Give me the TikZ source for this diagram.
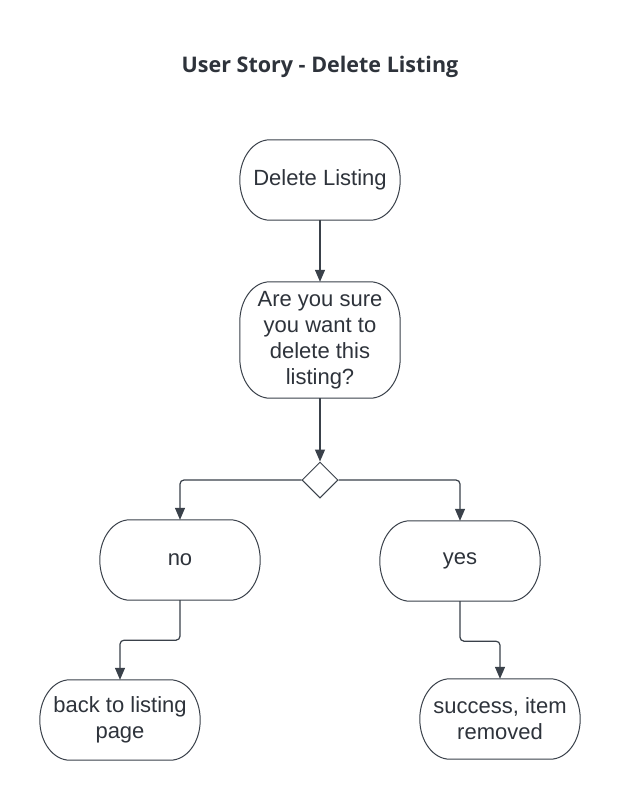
\documentclass[tikz,border=0pt]{standalone}
\usepackage{fontspec}
\setmainfont{Liberation Sans}
\newfontfamily\titlefont{Open Sans}
\usetikzlibrary{arrows.meta, shapes.geometric}
\definecolor{ink}{HTML}{3A414A}
\definecolor{txt}{HTML}{2E333B}
\tikzset{
  story/.style={minimum width=160pt, minimum height=80pt, inner sep=0pt, align=center,
    text=txt, font=\fontsize{22}{26}\selectfont},
  outline/.style={draw=ink, line width=1pt},
  gate/.style={diamond, outline, inner sep=0pt, minimum width=36pt, minimum height=36pt},
  flow/.style={draw=ink, line width=1.2pt, rounded corners=4pt, -{Triangle[length=12pt,width=10pt]}}
}
\begin{document}
\begin{tikzpicture}[x=1pt, y=-1pt]
	\useasboundingbox[fill=white] (0,0) rectangle (620,800);
	\node (title) at (320,67) [text=txt, font=\titlefont\bfseries\fontsize{21.5}{24}\selectfont] {User Story - Delete Listing};
	\node (delete) at (320,180) [story] {Delete Listing};
	\node (ask) at (320,340) [story, minimum height=116pt] {Are you sure\\you want to\\delete this\\listing?};
	\node (choice) at (320,480) [gate] {};
	\node (no) at (180,560) [story] {no};
	\node (yes) at (460,561) [story] {yes};
	\node (back) at (120,720) [story] {back to listing\\page};
	\node (done) at (500,719) [story] {success, item\\removed};
	% box outlines
	\foreach \n in {delete, ask, no, yes, back, done}
		\draw[outline] ([xshift=30pt]\n.north west) -- ([xshift=-30pt]\n.north east)
			arc[start angle=90, end angle=0, x radius=30pt, y radius=40pt]
			-- ([yshift=40pt]\n.south east)
			arc[start angle=0, end angle=-90, x radius=30pt, y radius=40pt]
			-- ([xshift=30pt]\n.south west)
			arc[start angle=270, end angle=180, x radius=30pt, y radius=40pt]
			-- ([yshift=-40pt]\n.north west)
			arc[start angle=180, end angle=90, x radius=30pt, y radius=40pt] -- cycle;
	% connectors
	\draw[flow] (delete.south) -- (ask.north);
	\draw[flow] (ask.south) -- (choice.north);
	\draw[flow] (choice.west) -| (no.north);
	\draw[flow] (choice.east) -| (yes.north);
	\draw[flow] (no.south) -- ++(0,40) -| (back.north);
	\draw[flow] (yes.south) -- ++(0,40) -| (done.north);
\end{tikzpicture}
\end{document}
